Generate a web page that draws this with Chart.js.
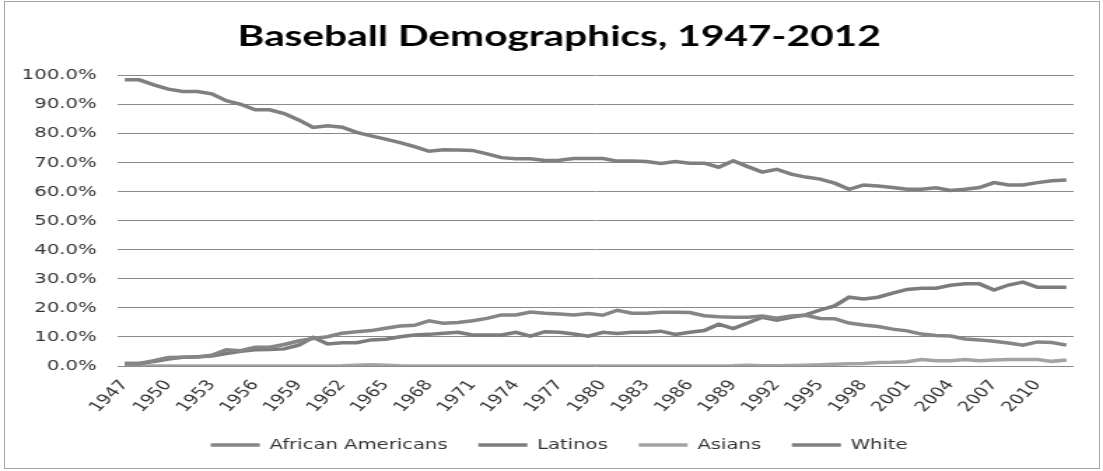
<!DOCTYPE html>
<html>
<head>
<meta charset="utf-8">
<script src="https://cdn.jsdelivr.net/npm/chart.js@4/dist/chart.umd.min.js"></script>
<style>
  html, body { margin: 0; padding: 0; background: #fff; }
  #frame { position: absolute; left: 4px; top: 1px; width: 1094px; height: 466px; border: 1px solid #a6a6a6; }
  #wrap { position: absolute; left: 0; top: 0; width: 788px; height: 471px; transform: scaleX(1.39975); transform-origin: 0 0; }
</style>
</head>
<body>
<div id="frame"></div>
<div id="wrap"><canvas id="line-chart" width="788" height="471"></canvas></div>
<script>
// categories: seasons 1947-2012
const years = ['1947','1948','1949','1950','1951','1952','1953','1954','1955','1956','1957',
  '1958','1959','1960','1961','1962','1963','1964','1965','1966','1967','1968','1969','1970',
  '1971','1972','1973','1974','1975','1976','1977','1978','1979','1980','1981','1982','1983',
  '1984','1985','1986','1987','1988','1989','1990','1991','1992','1993','1994','1995','1996',
  '1997','1998','1999','2000','2001','2002','2003','2004','2005','2006','2007','2008','2009',
  '2010','2011','2012'];

// only every third season is labelled on the axis
const shownYears = ['1947','1950','1953','1956','1959','1962','1965','1968','1971','1974','1977',
  '1980','1983','1986','1989','1992','1995','1998','2001','2004','2007','2010'];

// percent of players
const africanAmericans = [0.9, 0.9, 1.8, 2.9, 3.0, 3.1, 3.7, 5.6, 5.3, 6.5, 6.5,
  7.4, 8.6, 9.5, 10.1, 11.3, 11.8, 12.2, 13.0, 13.8, 14.0, 15.6, 14.7, 15.0,
  15.6, 16.4, 17.6, 17.6, 18.6, 18.2, 17.9, 17.6, 18.1, 17.5, 19.2, 18.2, 18.2,
  18.5, 18.5, 18.4, 17.3, 17.0, 16.8, 16.8, 17.2, 16.5, 17.2, 17.5, 16.4, 16.3,
  14.8, 14.1, 13.6, 12.7, 12.1, 11.0, 10.5, 10.3, 9.3, 9.0, 8.5, 7.9, 7.2,
  8.3, 8.1, 7.2];

const latinos = [0.9, 0.9, 1.5, 2.4, 3.0, 3.2, 3.4, 4.3, 5.1, 5.6, 5.7,
  5.9, 7.2, 9.9, 7.6, 8.0, 8.0, 9.0, 9.2, 10.1, 10.7, 10.9, 11.3, 11.6,
  10.7, 10.7, 10.7, 11.6, 10.3, 11.8, 11.6, 11.0, 10.3, 11.6, 11.2, 11.6, 11.6,
  12.0, 10.9, 11.6, 12.2, 14.4, 12.9, 14.8, 16.8, 15.8, 16.8, 17.6, 19.3, 20.7,
  23.7, 23.1, 23.7, 25.1, 26.4, 26.8, 26.8, 27.8, 28.3, 28.3, 26.2, 27.9, 28.9,
  27.1, 27.1, 27.1];

const asians = [0.0, 0.0, 0.0, 0.0, 0.0, 0.0, 0.0, 0.0, 0.0, 0.0, 0.0,
  0.0, 0.0, 0.0, 0.0, 0.1, 0.3, 0.4, 0.3, 0.1, 0.0, 0.0, 0.0, 0.0,
  0.0, 0.0, 0.0, 0.0, 0.0, 0.0, 0.0, 0.0, 0.0, 0.0, 0.0, 0.0, 0.0,
  0.0, 0.0, 0.0, 0.0, 0.0, 0.1, 0.3, 0.1, 0.1, 0.2, 0.3, 0.4, 0.6,
  0.8, 0.9, 1.2, 1.3, 1.5, 2.2, 1.8, 1.8, 2.2, 1.8, 2.1, 2.2, 2.2,
  2.2, 1.6, 2.1];

const white = [98.6, 98.6, 96.9, 95.4, 94.6, 94.6, 93.8, 91.4, 90.2, 88.3, 88.3,
  87.0, 84.8, 82.2, 82.8, 82.3, 80.5, 79.3, 78.2, 77.0, 75.6, 74.0, 74.5, 74.4,
  74.3, 73.1, 71.8, 71.4, 71.4, 70.8, 70.9, 71.5, 71.5, 71.5, 70.6, 70.6, 70.5,
  69.8, 70.5, 69.9, 69.9, 68.5, 70.7, 68.7, 66.8, 67.8, 66.1, 65.1, 64.4, 63.0,
  60.9, 62.4, 62.0, 61.5, 60.9, 60.9, 61.4, 60.5, 60.9, 61.5, 63.2, 62.4, 62.4,
  63.2, 63.8, 64.1];

const tickFont = { family: 'DejaVu Sans', size: 14 };

function series(label, data, color) {
  return {
    label: label,
    data: data,
    borderColor: color,
    backgroundColor: color,
    borderWidth: 3.5,
    pointRadius: 0,
    pointStyle: 'line',
    tension: 0,
    fill: false
  };
}

// title and legend sit centred on the whole frame, a bit right of the default box
const nudgeBoxes = {
  id: 'nudgeBoxes',
  afterLayout(chart) {
    [chart.titleBlock, chart.legend].forEach(function (b) {
      if (b) { b.left += 10; b.right += 10; }
    });
  }
};

new Chart(document.getElementById('line-chart'), {
  type: 'line',
  data: {
    labels: years,
    datasets: [
      series('African Americans', africanAmericans, '#858585'),
      series('Latinos', latinos, '#7c7c7c'),
      series('Asians', asians, '#a3a3a3'),
      series('White', white, '#7f7f7f')
    ]
  },
  options: {
    responsive: false,
    animation: false,
    layout: { padding: { left: 12, right: 21, top: 0, bottom: 9 } },
    plugins: {
      title: {
        display: true,
        text: 'Baseball Demographics, 1947-2012',
        color: '#000',
        font: { family: 'Lato', size: 29, weight: 'bold' },
        padding: { top: 19, bottom: 22 }
      },
      legend: {
        position: 'bottom',
        labels: {
          color: '#333',
          font: tickFont,
          usePointStyle: true,
          pointStyle: 'line',
          pointStyleWidth: 35,
          padding: 22
        }
      },
      tooltip: { enabled: false }
    },
    scales: {
      x: {
        offset: true,
        grid: { display: false },
        border: { display: false },
        ticks: {
          autoSkip: false,
          minRotation: 52,
          maxRotation: 52,
          padding: 3,
          color: '#333',
          font: tickFont,
          callback: function (val, idx) {
            const y = this.getLabelForValue(val);
            return shownYears.includes(y) ? y : '';
          }
        },
        afterFit: function (scale) { scale.height = 50; }
      },
      y: {
        min: 0,
        max: 100,
        grid: { color: '#8a8a8a', lineWidth: 1, drawTicks: false },
        border: { display: false },
        ticks: {
          stepSize: 10,
          padding: 15,
          color: '#333',
          font: tickFont,
          callback: function (v) { return v.toFixed(1) + '%'; }
        },
        afterFit: function (scale) { scale.width = 72; }
      }
    }
  },
  plugins: [nudgeBoxes]
});
</script>
</body>
</html>
